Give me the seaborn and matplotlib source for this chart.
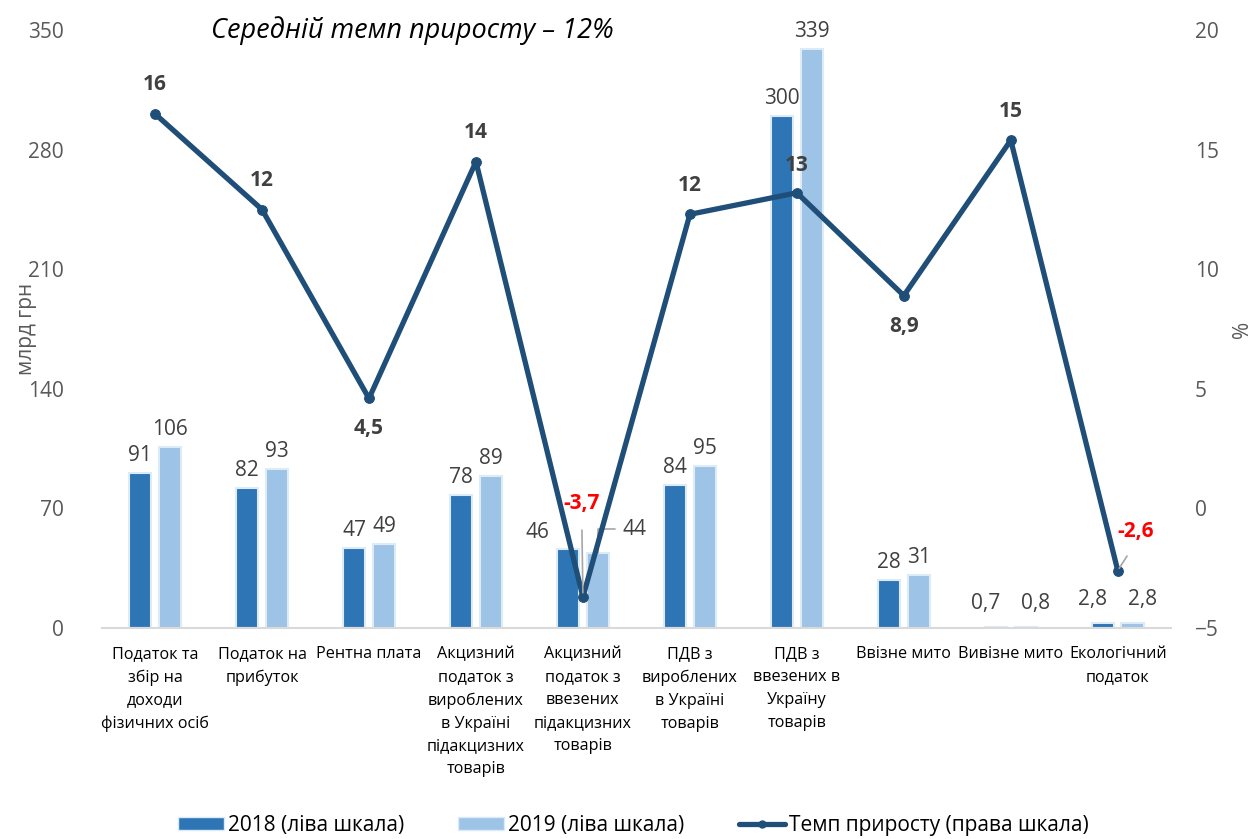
import numpy as np
import pandas as pd
import matplotlib
matplotlib.use('Agg')
import matplotlib.pyplot as plt
from matplotlib.patches import Patch
from matplotlib.lines import Line2D
import seaborn as sns

sns.set_theme(style='white')
plt.rcParams['font.family'] = ['Open Sans', 'DejaVu Sans']

categories = ['Податок та\nзбір на\nдоходи\nфізичних осіб', 'Податок на\nприбуток', 'Рентна плата',
              'Акцизний\nподаток з\nвироблених\nв Україні\nпідакцизних\nтоварів',
              'Акцизний\nподаток з\nввезених\nпідакцизних\nтоварів',
              'ПДВ з\nвироблених\nв Україні\nтоварів', 'ПДВ з\nввезених в\nУкраїну\nтоварів',
              'Ввізне мито', 'Вивізне мито', 'Екологічний\nподаток']
v2018 = [91, 82, 47, 78, 46, 84, 300, 28, 0.7, 2.8]
v2019 = [106, 93, 49, 89, 44, 95, 339, 31, 0.8, 2.8]
lbl2018 = ['91', '82', '47', '78', '46', '84', '300', '28', '0,7', '2,8']
lbl2019 = ['106', '93', '49', '89', '44', '95', '339', '31', '0,8', '2,8']
growth = [16.5, 12.5, 4.6, 14.5, -3.7, 12.3, 13.2, 8.9, 15.4, -2.6]
growth_lbl = ['16', '12', '4,5', '14', '-3,7', '12', '13', '8,9', '15', '-2,6']
years = ['2018 (ліва шкала)', '2019 (ліва шкала)']

C18, C19, CL = '#2E75B6', '#9DC3E6', '#1F4E79'
GREY = '#595959'
FS = 15

df = pd.DataFrame({'cat': categories * 2,
                   'val': v2018 + v2019,
                   'year': [years[0]] * 10 + [years[1]] * 10})

fig = plt.figure(figsize=(12.54, 8.39), dpi=100)
ax = fig.add_axes([0.081, 0.2515, 0.853, 0.7125])
sns.barplot(data=df, x='cat', y='val', hue='year', palette=[C18, C19], saturation=1,
            width=0.56, gap=0.25, edgecolor='#DDEBF7', linewidth=1.5, ax=ax, legend=False)
ax.set_ylim(0, 350)
ax.set_yticks(range(0, 351, 70))
ax.set_xlim(-0.5, 9.5)
ax.set_xlabel('')
ax.set_ylabel('млрд грн', fontsize=FS, color=GREY)
ax.yaxis.set_label_coords(-0.06, 0.5)
ax.tick_params(axis='y', labelsize=FS, labelcolor=GREY, length=0, pad=27)
ax.tick_params(axis='x', labelsize=11.6, labelcolor='#000000', length=0, pad=13)
for t in ax.get_xticklabels():
    t.set_linespacing(1.58)
    t.set_verticalalignment('top')
for s in ['top', 'left', 'right']:
    ax.spines[s].set_visible(False)
ax.spines['bottom'].set_color('#D9D9D9')
ax.spines['bottom'].set_linewidth(1.5)

# bar labels (crowded categories are placed by hand)
special = {4, 8, 9}
c18, c19 = ax.containers[0], ax.containers[1]
ax.bar_label(c18, labels=[l if i not in special else '' for i, l in enumerate(lbl2018)],
             fontsize=FS, color='#404040', padding=5)
ax.bar_label(c19, labels=[l if i not in special else '' for i, l in enumerate(lbl2019)],
             fontsize=FS, color='#404040', padding=5)
ax.annotate(lbl2018[4], xy=(4 - 0.14, v2018[4]), xytext=(-22, 12), textcoords='offset points',
            ha='center', va='center', fontsize=FS, color='#404040')
ax.annotate(lbl2019[4], xy=(4 + 0.14, v2019[4]), xytext=(18, 17), textcoords='offset points',
            ha='left', va='center', fontsize=FS, color='#404040',
            arrowprops=dict(arrowstyle='-', color='#A6A6A6', lw=1.2, shrinkA=3, shrinkB=0,
                            connectionstyle='angle,angleA=0,angleB=90,rad=0'))
for i in (8, 9):
    ax.annotate(lbl2018[i], xy=(i - 0.14, v2018[i]), xytext=(-7, 17), textcoords='offset points',
                ha='center', va='center', fontsize=FS, color='#404040')
    ax.annotate(lbl2019[i], xy=(i + 0.14, v2019[i]), xytext=(7, 17), textcoords='offset points',
                ha='center', va='center', fontsize=FS, color='#404040')

# growth line on the right axis
ax2 = ax.twinx()
sns.lineplot(x=np.arange(10), y=growth, ax=ax2, color=CL, linewidth=3.8,
             marker='o', markersize=7, markeredgecolor=CL)
ax2.set_ylim(-5, 20)
ax2.set_yticks(range(-5, 21, 5))
ax2.set_ylabel('%', fontsize=FS, color=GREY)
ax2.yaxis.set_label_coords(1.057, 0.5)
ax2.tick_params(axis='y', labelsize=FS, labelcolor=GREY, length=0, pad=17)
for s in ['top', 'left', 'right', 'bottom']:
    ax2.spines[s].set_visible(False)

offsets = {0: (0, 21), 1: (0, 21), 2: (0, -22), 3: (0, 21), 5: (0, 21), 6: (0, 20),
           7: (0, -22), 8: (0, 21)}
for i, (g, lab) in enumerate(zip(growth, growth_lbl)):
    if i in offsets:
        ax2.annotate(lab, xy=(i, g), xytext=offsets[i], textcoords='offset points',
                     ha='center', va='center', fontsize=FS, fontweight='bold', color='#404040')
ax2.annotate(growth_lbl[4], xy=(4, growth[4]), xytext=(-1, 67), textcoords='offset points',
             ha='center', va='center', fontsize=FS, fontweight='bold', color='#FF0000',
             arrowprops=dict(arrowstyle='-', color='#A6A6A6', lw=1.2, shrinkA=9, shrinkB=3))
ax2.annotate(growth_lbl[9], xy=(9, growth[9]), xytext=(13, 28), textcoords='offset points',
             ha='center', va='center', fontsize=FS, fontweight='bold', color='#FF0000',
             arrowprops=dict(arrowstyle='-', color='#A6A6A6', lw=1.2, shrinkA=9, shrinkB=2,
                             relpos=(0.5, 0)))

fig.text(0.329, 0.963, 'Середній темп приросту – 12%', fontsize=19.5, style='italic',
         ha='center', va='center', color='#000000')

handles = [Patch(facecolor=C18, edgecolor='#DDEBF7'), Patch(facecolor=C19, edgecolor='#DDEBF7'),
           Line2D([0], [0], color=CL, lw=3.8, marker='o', markersize=5)]
fig.legend(handles, years + ['Темп приросту (права шкала)'], loc='center', ncol=3,
           bbox_to_anchor=(0.505, 0.016), frameon=False, fontsize=FS, handlelength=2.2,
           handleheight=0.6, columnspacing=2.6, handletextpad=0.2, labelcolor='#000000')

fig.savefig('out.png', dpi=100)
